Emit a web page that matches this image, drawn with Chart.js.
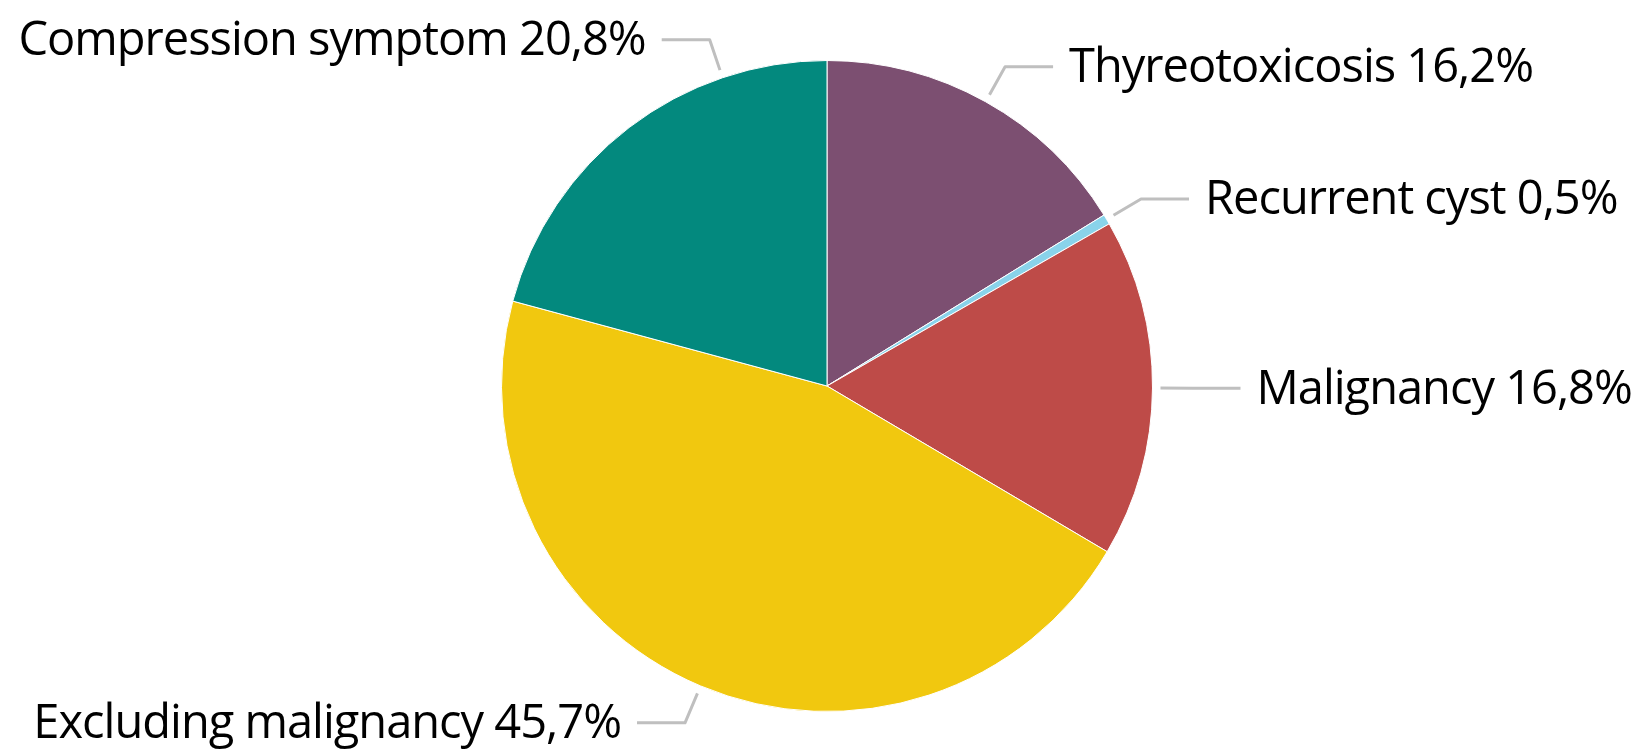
<!DOCTYPE html>
<html>
<head>
<meta charset="utf-8">
<script src="https://cdn.jsdelivr.net/npm/chart.js@4/dist/chart.umd.min.js"></script>
<style>
  html, body { margin: 0; padding: 0; background: #fff; }
  #wrap { width: 1649px; height: 755px; }
</style>
</head>
<body>
<div id="wrap"><canvas id="myChart" width="1649" height="755"></canvas></div>
<script>
// chart data
var labels = ["Thyreotoxicosis", "Recurrent cyst", "Malignancy", "Excluding malignancy", "Compression symptom"];
var values = [16.2, 0.5, 16.8, 45.7, 20.8];
var colors = ["#7c4f71", "#89d3ea", "#be4b48", "#f1c80f", "#03897e"];
// where along each slice the leader line is attached (0 = start, 1 = end)
var leaderPos = [0.5, 0.5, 0.5, 0.5, 0.75];

function fmt(v) {
	return v.toFixed(1).replace(".", ",") + "%";
}

// draws the outside labels with elbow leader lines
var outsideLabels = {
	id: "outsideLabels",
	afterDraw: function(chart) {
		var ctx = chart.ctx;
		var arcs = chart.getDatasetMeta(0).data;
		ctx.save();
		ctx.font = "47px 'Open Sans'";
		if ("letterSpacing" in ctx) ctx.letterSpacing = "-1px";
		ctx.textBaseline = "middle";
		arcs.forEach(function(arc, i) {
			var p = arc.getProps(["x", "y", "startAngle", "endAngle", "outerRadius"], true);
			var a = p.startAngle + (p.endAngle - p.startAngle) * leaderPos[i];
			var cos = Math.cos(a), sin = Math.sin(a);
			var x0 = p.x + cos * (p.outerRadius + 8), y0 = p.y + sin * (p.outerRadius + 8);
			var x1 = p.x + cos * (p.outerRadius + 40), y1 = p.y + sin * (p.outerRadius + 40);
			var right = cos >= 0;
			var x2 = x1 + (right ? 48 : -48);
			ctx.strokeStyle = "#bfbfbf";
			ctx.lineWidth = 3;
			ctx.lineJoin = "round";
			ctx.beginPath();
			ctx.moveTo(x0, y0);
			ctx.lineTo(x1, y1);
			ctx.lineTo(x2, y1);
			ctx.stroke();
			ctx.fillStyle = "#000";
			ctx.textAlign = right ? "left" : "right";
			ctx.fillText(labels[i] + " " + fmt(values[i]), x2 + (right ? 16 : -16), y1 + 2);
		});
		ctx.restore();
	}
};

var ctx = document.getElementById("myChart").getContext("2d");
var chart = new Chart(ctx, {
	type: "pie",
	data: {
		labels: labels,
		datasets: [{
			data: values,
			backgroundColor: colors,
			borderColor: "#ffffff",
			borderWidth: 1
		}]
	},
	options: {
		responsive: false,
		animation: false,
		layout: { padding: { left: 5, right: 0, top: 60, bottom: 43 } },
		plugins: {
			legend: { display: false },
			tooltip: { enabled: false }
		}
	},
	plugins: [outsideLabels]
});
</script>
</body>
</html>
